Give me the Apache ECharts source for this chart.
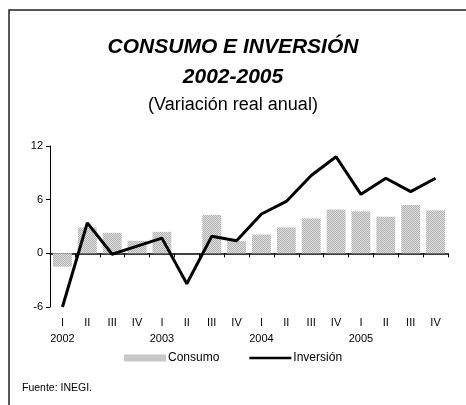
<!DOCTYPE html>
<html>
<head>
<meta charset="utf-8">
<script src="https://cdn.jsdelivr.net/npm/echarts@6/dist/echarts.min.js"></script>
<style>
  html, body { margin: 0; padding: 0; background: #fff; }
  #chart { width: 466px; height: 405px; }
</style>
</head>
<body>
<div id="chart"></div>
<script>
// datos
const trimestres = ['I', 'II', 'III', 'IV', 'I', 'II', 'III', 'IV', 'I', 'II', 'III', 'IV', 'I', 'II', 'III', 'IV'];
const anios = ['2002', '2003', '2004', '2005'];
const consumo = [-1.5, 2.9, 2.3, 1.4, 2.4, 0.0, 4.3, 1.4, 2.1, 2.9, 3.9, 4.9, 4.7, 4.1, 5.4, 4.8];
const inversion = [-6.0, 3.4, -0.1, 0.8, 1.7, -3.4, 1.9, 1.4, 4.4, 5.8, 8.7, 10.8, 6.6, 8.4, 6.9, 8.4];
const yTicks = [-6, 0, 6, 12];

// patrón punteado para las barras
let pat = document.createElement('canvas');
pat.width = 2; pat.height = 2;
let pc = pat.getContext('2d');
pc.fillStyle = '#e0e0e0';
pc.fillRect(0, 0, 2, 2);
pc.fillStyle = '#b0b0b0';
pc.fillRect(0, 0, 1, 1);
pc.fillRect(1, 1, 1, 1);

let chart = echarts.init(document.getElementById('chart'));
const font = 'Liberation Sans, Arial, sans-serif';

chart.setOption({
    animation: false,
    textStyle: { fontFamily: font, color: '#000' },
    title: [
        {
            text: 'CONSUMO E INVERSIÓN',
            left: 'center', top: 32,
            textStyle: { fontSize: 21, fontWeight: 'bold', fontStyle: 'italic', color: '#000', fontFamily: font }
        },
        {
            text: '2002-2005',
            left: 'center', top: 62,
            textStyle: { fontSize: 21, fontWeight: 'bold', fontStyle: 'italic', color: '#000', fontFamily: font }
        },
        {
            text: '(Variación real anual)',
            left: 'center', top: 91,
            textStyle: { fontSize: 18, fontWeight: 'normal', color: '#000', fontFamily: font }
        }
    ],
    graphic: [
        {
            type: 'polyline',
            shape: { points: [[9, 420], [9, 10], [480, 10]] },
            style: { stroke: '#222', lineWidth: 1.5, fill: null }
        },
        {
            type: 'text', left: 22, top: 383,
            style: { text: 'Fuente: INEGI.', font: '10.5px ' + font, fill: '#000' }
        }
    ],
    legend: {
        left: 124, top: 352, padding: 0,
        itemWidth: 42, itemHeight: 7, itemGap: 30,
        textStyle: { fontSize: 12, color: '#000', padding: [0, 0, 0, -3] },
        data: [
            { name: 'Consumo', icon: 'rect' },
            { name: 'Inversión', icon: 'path://M0,0L0,7M0,2.2L42,2.2L42,4.8L0,4.8Z' }
        ]
    },
    grid: { left: 50, right: 18, top: 146, bottom: 98 },
    xAxis: [
        {
            type: 'category',
            data: trimestres,
            axisLine: { onZero: true, lineStyle: { color: '#000', width: 1.5 } },
            axisTick: { show: true, inside: false, length: 4, lineStyle: { color: '#000' } },
            axisLabel: { show: false }
        },
        {
            type: 'category',
            data: trimestres,
            position: 'bottom',
            axisLine: { show: false },
            axisTick: { show: false },
            axisLabel: {
                interval: 0,
                margin: 8,
                fontSize: 11,
                color: '#000',
                lineHeight: 16,
                formatter: (v, i) => i % 4 === 0 ? v + '\n' + anios[i / 4] : v
            }
        }
    ],
    yAxis: {
        type: 'value',
        min: yTicks[0], max: yTicks[yTicks.length - 1], interval: 6,
        axisLine: { show: true, lineStyle: { color: '#000', width: 1 } },
        axisTick: { show: true, length: 4, lineStyle: { color: '#000' } },
        axisLabel: { fontSize: 11, color: '#000', margin: 7 },
        splitLine: { show: false }
    },
    series: [
        {
            name: 'Consumo',
            type: 'bar',
            data: consumo,
            barWidth: '76%',
            itemStyle: { color: { image: pat, repeat: 'repeat' } }
        },
        {
            name: 'Inversión',
            type: 'line',
            data: inversion,
            symbol: 'none',
            lineStyle: { color: '#000', width: 3 },
            itemStyle: { color: '#000' }
        }
    ]
});
</script>
</body>
</html>
